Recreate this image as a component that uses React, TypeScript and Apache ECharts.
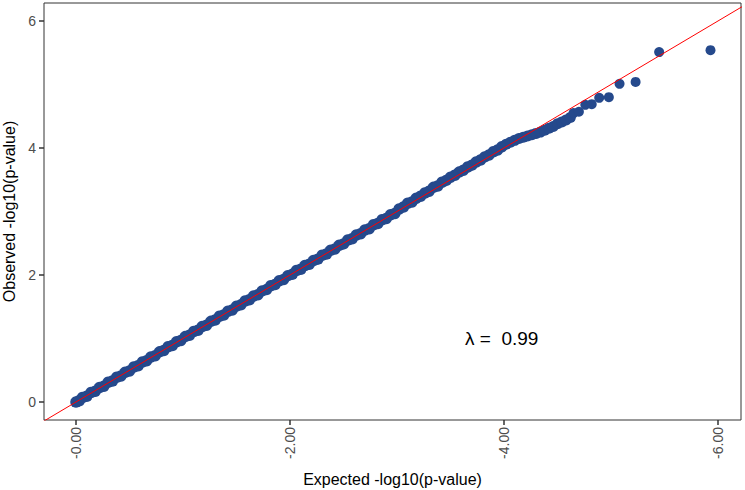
import React, { useEffect, useRef } from "react";
import * as echarts from "echarts";

// Expected -log10(p) (theoretical quantiles)
const expected: number[] = [
  0.0, 0.03, 0.06, 0.1, 0.14, 0.18, 0.22, 0.26, 0.3, 0.34, 0.38, 0.42, 0.46, 0.5, 0.54, 0.58, 0.62, 0.66, 0.7, 0.74, 0.78, 0.82, 0.86, 0.9, 0.94, 0.98,
  1.02, 1.06, 1.1, 1.14, 1.18, 1.22, 1.26, 1.3, 1.34, 1.38, 1.42, 1.46, 1.5, 1.54, 1.58, 1.62, 1.66, 1.7, 1.74, 1.78, 1.82, 1.86, 1.9, 1.94, 1.98,
  2.02, 2.06, 2.1, 2.14, 2.18, 2.22, 2.26, 2.3, 2.34, 2.38, 2.42, 2.46, 2.5, 2.54, 2.58, 2.62, 2.66, 2.7, 2.74, 2.78, 2.82, 2.86, 2.9, 2.94, 2.98,
  3.02, 3.06, 3.1, 3.14, 3.18, 3.22, 3.26, 3.3, 3.34, 3.38, 3.42, 3.46, 3.5, 3.54, 3.58, 3.62, 3.66, 3.7, 3.74, 3.78, 3.82, 3.86, 3.9, 3.94, 3.98,
  4.02, 4.06, 4.1, 4.14, 4.18, 4.22, 4.26, 4.3, 4.34, 4.38, 4.42, 4.46, 4.5, 4.54, 4.58, 4.62,
  4.65, 4.7, 4.76, 4.82, 4.89, 4.98, 5.08, 5.23, 5.45, 5.93,
];

// Observed -log10(p)
const observed: number[] = [
  0.0, 0.02, 0.07, 0.09, 0.15, 0.17, 0.23, 0.25, 0.31, 0.33, 0.39, 0.41, 0.47, 0.49, 0.55, 0.57, 0.63, 0.65, 0.71, 0.73, 0.79, 0.81, 0.87, 0.89, 0.95, 0.97,
  1.03, 1.05, 1.11, 1.13, 1.19, 1.21, 1.27, 1.29, 1.35, 1.37, 1.43, 1.45, 1.51, 1.53, 1.59, 1.61, 1.67, 1.69, 1.75, 1.77, 1.83, 1.85, 1.91, 1.93, 1.99,
  2.01, 2.07, 2.09, 2.15, 2.17, 2.23, 2.25, 2.31, 2.33, 2.39, 2.41, 2.47, 2.49, 2.55, 2.57, 2.63, 2.65, 2.71, 2.73, 2.79, 2.81, 2.87, 2.89, 2.95, 2.97,
  3.04, 3.07, 3.13, 3.15, 3.21, 3.24, 3.29, 3.32, 3.38, 3.40, 3.46, 3.49, 3.54, 3.57, 3.62, 3.65, 3.70, 3.73, 3.78, 3.81, 3.86, 3.89, 3.94, 3.97, 4.02,
  4.06, 4.09, 4.12, 4.15, 4.17, 4.19, 4.21, 4.23, 4.25, 4.28, 4.31, 4.34, 4.38, 4.41, 4.44, 4.48,
  4.55, 4.57, 4.68, 4.69, 4.79, 4.8, 5.01, 5.04, 5.51, 5.54,
];

const tickValues: number[] = [0, 2, 4, 6];
const lambdaText = "λ =\u00a0\u00a00.99";

const FONT = "'Liberation Sans', Arial, Helvetica, sans-serif";

export default function App() {
  const ref = useRef<HTMLDivElement>(null);

  useEffect(() => {
    if (!ref.current) return;
    const chart = echarts.init(ref.current, null, { renderer: "svg" });
    const points = expected.map((x, i) => [x, observed[i]]);
    chart.setOption({
      animation: false,
      backgroundColor: "#ffffff",
      textStyle: { fontFamily: FONT },
      grid: {
        left: 44,
        top: 3,
        right: 4,
        bottom: 70,
        containLabel: false,
        outerBoundsMode: "none",
        show: true,
        borderColor: "#333333",
        borderWidth: 1,
        backgroundColor: "transparent",
      },
      xAxis: {
        type: "value",
        min: -0.299,
        max: 6.215,
        name: "Expected -log10(p-value)",
        nameLocation: "middle",
        nameGap: 51,
        nameTextStyle: { color: "#000", fontSize: 16, fontFamily: FONT },
        axisLine: { show: false, onZero: false },
        splitLine: { show: false },
        axisTick: {
          show: true,
          length: 5,
          customValues: tickValues,
          lineStyle: { color: "#333333", width: 1.5 },
        },
        axisLabel: {
          customValues: tickValues,
          rotate: 90,
          margin: 7,
          color: "#4d4d4d",
          fontSize: 14,
          fontFamily: FONT,
          formatter: (v: number) => "-" + v.toFixed(2),
        },
      },
      yAxis: {
        type: "value",
        min: -0.283,
        max: 6.283,
        name: "Observed -log10(p-value)",
        nameLocation: "middle",
        nameGap: 22,
        nameTextStyle: { color: "#000", fontSize: 16, fontFamily: FONT },
        axisLine: { show: false, onZero: false },
        splitLine: { show: false },
        axisTick: {
          show: true,
          length: 5,
          customValues: tickValues,
          lineStyle: { color: "#333333", width: 1.5 },
        },
        axisLabel: {
          customValues: tickValues,
          margin: 8,
          color: "#4d4d4d",
          fontSize: 14,
          fontFamily: FONT,
        },
      },
      series: [
        {
          type: "scatter",
          data: points,
          symbolSize: (val: number[]) => (val[0] < 4.0 ? 11.5 : val[0] < 4.64 ? 11 : 10),
          itemStyle: { color: "#25498c", opacity: 1 },
          z: 2,
        },
        {
          type: "line",
          data: [
            [-1, -1],
            [7, 7],
          ],
          symbol: "none",
          clip: true,
          lineStyle: { color: "#ff0000", width: 1 },
          z: 3,
        },
      ],
      graphic: [
        {
          type: "text",
          left: 465,
          top: 329,
          style: {
            text: lambdaText,
            fontSize: 19,
            fontFamily: FONT,
            fill: "#000000",
          },
        },
      ],
    });
    return () => chart.dispose();
  }, []);

  return (
    <div
      ref={ref}
      style={{ position: "fixed", left: 0, top: 0, width: 745, height: 490 }}
    />
  );
}
